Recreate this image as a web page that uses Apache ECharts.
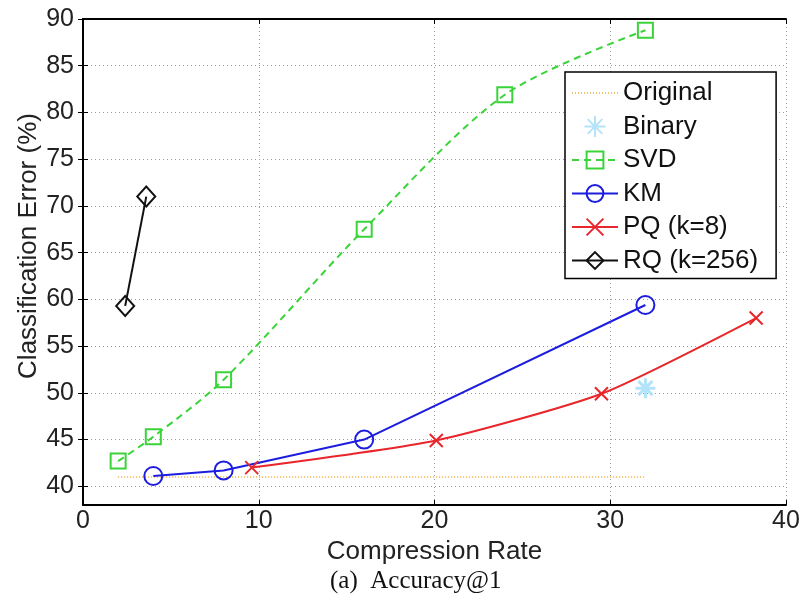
<!DOCTYPE html>
<html>
<head>
<meta charset="utf-8">
<script src="https://cdn.jsdelivr.net/npm/echarts@6/dist/echarts.min.js"></script>
<style>
  html, body { margin: 0; padding: 0; background: #fff; }
  #chart { width: 804px; height: 606px; }
</style>
</head>
<body>
<div id="chart"></div>
<script>
// values
var xTicks = [0, 10, 20, 30, 40];
var yTicks = [40, 45, 50, 55, 60, 65, 70, 75, 80, 85, 90];

var originalData = [[2, 41], [32, 41]];
var binaryData = [[32, 50.5]];
var svdData = [[2, 42.7], [4, 45.3], [8, 51.4], [16, 67.5], [24, 81.9], [32, 88.8]];
var kmData = [[4, 41.1], [8, 41.7], [16, 45.0], [32, 59.4]];
var pqData = [[9.6, 42.0], [20.1, 44.9], [29.5, 49.9], [38.3, 58.0]];
var rqData = [[2.4, 59.3], [3.6, 71.0]];

var font = 'Liberation Sans, Arial, sans-serif';
var asterisk = 'path://M0,-10L0,10M-10,0L10,0M-7,-7L7,7M-7,7L7,-7';
var cross = 'path://M-10,-10L10,10M-10,10L10,-10';

var chart = echarts.init(document.getElementById('chart'));

chart.setOption({
    animation: false,
    backgroundColor: '#fff',
    grid: { left: 83, right: 18, top: 19, bottom: 101 },
    xAxis: [{
        type: 'value', min: 0, max: 40, interval: 10,
        name: 'Compression Rate', nameLocation: 'middle', nameGap: 29,
        nameTextStyle: { fontFamily: font, fontSize: 26, color: '#222' },
        axisLine: { lineStyle: { color: '#000', width: 2 } },
        axisTick: { inside: true, length: 5, lineStyle: { color: '#000' } },
        axisLabel: { fontFamily: font, fontSize: 25, color: '#222', margin: 4 },
        splitLine: { show: true, lineStyle: { color: '#9a9a9a', type: [1, 3], width: 1 } }
    }, {
        type: 'value', min: 0, max: 40, interval: 10, position: 'top',
        axisLine: { lineStyle: { color: '#000', width: 2 } },
        axisTick: { inside: true, length: 5, lineStyle: { color: '#000' } },
        axisLabel: { show: false },
        splitLine: { show: false }
    }],
    yAxis: [{
        type: 'value', min: 38, max: 90,
        name: 'Classification Error (%)', nameLocation: 'middle', nameGap: 41,
        nameMoveOverlap: false,
        nameTextStyle: { fontFamily: font, fontSize: 26, color: '#222', padding: [0, 0, 0, 32] },
        axisLine: { show: true, lineStyle: { color: '#000', width: 2 } },
        axisTick: { show: true, inside: true, length: 5, customValues: yTicks, lineStyle: { color: '#000' } },
        axisLabel: { fontFamily: font, fontSize: 25, color: '#222', margin: 9, customValues: yTicks },
        splitLine: { show: true, lineStyle: { color: '#9a9a9a', type: [1, 3], width: 1 } }
    }, {
        type: 'value', min: 38, max: 90, position: 'right',
        axisLine: { show: true, lineStyle: { color: '#000', width: 2 } },
        axisTick: { show: true, inside: true, length: 5, customValues: yTicks, lineStyle: { color: '#000' } },
        axisLabel: { show: false },
        splitLine: { show: false }
    }],
    legend: {
        orient: 'vertical', left: 565, top: 72,
        backgroundColor: '#fff', borderColor: '#000', borderWidth: 1.5,
        padding: [8, 18, 5, 6], itemWidth: 46, itemHeight: 21, itemGap: 7.5,
        textStyle: { fontFamily: font, fontSize: 26, color: '#111' },
        data: ['Original', 'Binary', 'SVD', 'KM', 'PQ (k=8)', 'RQ (k=256)']
    },
    series: [{
        name: 'Original', type: 'line', data: originalData, symbol: 'none',
        lineStyle: { color: '#f2bf6a', width: 2, type: [1, 2] },
        itemStyle: { color: 'rgba(0,0,0,0)', borderWidth: 0 }
    }, {
        name: 'Binary', type: 'scatter', data: binaryData,
        symbol: asterisk, symbolSize: 20,
        itemStyle: { color: 'rgba(0,0,0,0)', borderColor: '#9fdcf7', borderWidth: 3 }
    }, {
        name: 'SVD', type: 'line', data: svdData, smooth: 0.3,
        symbol: 'rect', symbolSize: 15, showAllSymbol: true,
        lineStyle: { color: '#3ad43a', width: 2, type: [7, 5] },
        itemStyle: { color: 'rgba(0,0,0,0)', borderColor: '#3ad43a', borderWidth: 2 }
    }, {
        name: 'KM', type: 'line', data: kmData,
        symbol: 'circle', symbolSize: 18,
        lineStyle: { color: '#1d1de0', width: 2 },
        itemStyle: { color: 'rgba(0,0,0,0)', borderColor: '#1d1de0', borderWidth: 2 }
    }, {
        name: 'PQ (k=8)', type: 'line', data: pqData, smooth: 0.2,
        symbol: cross, symbolSize: 13,
        lineStyle: { color: '#e8262b', width: 2 },
        itemStyle: { color: 'rgba(0,0,0,0)', borderColor: '#e8262b', borderWidth: 2 }
    }, {
        name: 'RQ (k=256)', type: 'line', data: rqData,
        symbol: 'diamond', symbolSize: [18, 20],
        lineStyle: { color: '#111', width: 2 },
        itemStyle: { color: 'rgba(0,0,0,0)', borderColor: '#111', borderWidth: 2 }
    }],
    graphic: [{
        type: 'text', left: 330, top: 569,
        style: { text: '(a)  Accuracy@1', font: '25px "Liberation Serif", "Times New Roman", serif', fill: '#111' }
    }]
});
</script>
</body>
</html>
